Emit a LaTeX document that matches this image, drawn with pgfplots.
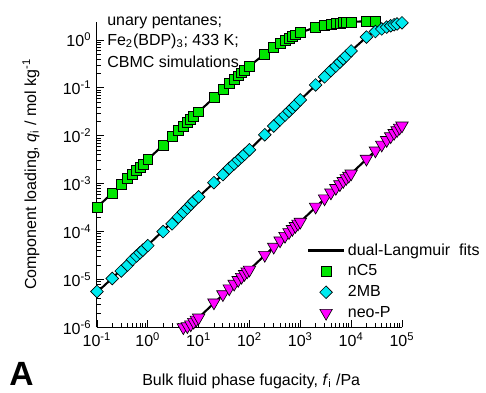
\documentclass[border=0pt]{standalone}
\usepackage{fontspec}
\setmainfont{Liberation Sans}
\usepackage{pgfplots}
\pgfplotsset{compat=1.18}
\definecolor{cgreen}{RGB}{0,230,0}
\definecolor{ccyan}{RGB}{0,235,240}
\definecolor{cmag}{RGB}{255,0,255}
\pgfplotsset{
  lineleg/.style={legend image code/.code={\draw[##1] (0pt,0pt) -- (22pt,0pt);}},
  markleg/.style={legend image code/.code={\draw[##1] plot coordinates {(11pt,0pt)};}},
}

\begin{document}
\begin{tikzpicture}
\path[use as bounding box] (-60.6pt,-40.4pt) rectangle (243.1pt,204.6pt);
\begin{axis}[
  at={(0pt,0pt)}, anchor=south west,
  scale only axis, width=190.6pt, height=191pt,
  xmode=log, ymode=log,
  xmin=0.1, xmax=1e5, ymin=1e-6, ymax=2.4,
  axis lines=left, axis line style={-, line width=0.6pt},
  tick align=inside,
  major tick length=4.5pt, minor tick length=2.5pt,
  tick style={black, line width=0.5pt},
  xtick={0.1,1,10,100,1000,10000,100000},
  xticklabels={10\textsuperscript{-1},10\textsuperscript{0},10\textsuperscript{1},10\textsuperscript{2},10\textsuperscript{3},10\textsuperscript{4},10\textsuperscript{5}},
  ytick={1e-6,1e-5,1e-4,1e-3,1e-2,1e-1,1},
  yticklabels={10\textsuperscript{-6},10\textsuperscript{-5},10\textsuperscript{-4},10\textsuperscript{-3},10\textsuperscript{-2},10\textsuperscript{-1},10\textsuperscript{0}},
  clip=false,
  legend cell align=left,
  legend style={at={(0.689,0.286)}, anchor=north west, draw=none, fill=none,
     inner sep=0pt, row sep=0.5pt, nodes={inner sep=2pt}},
]
% dual-Langmuir fit lines
\addplot[black, line width=1.3pt, mark=none, lineleg] coordinates {
(0.1,3.2e-4)(0.2,6.4e-4)(0.5,1.6e-3)(1,3.2e-3)(2,6.39e-3)(5,0.0159)(10,0.0316)(20,0.0624)(50,0.1506)(100,0.2844)(200,0.512)(300,0.698)(500,0.985)(700,1.195)(1000,1.422)(1500,1.655)(2000,1.829)(3000,2.021)(5000,2.207)(7000,2.297)(10000,2.370)(15000,2.43)(20000,2.462)(30000,2.494)};
\addlegendentry{dual-Langmuir\ \ fits}
\addplot[black, line width=1.3pt, mark=none, forget plot] coordinates {
(0.1,5.4e-6)(1,5.2e-5)(10,5.3e-4)(100,5.1e-3)(1000,0.056)(3000,0.17)(5000,0.285)(10000,0.59)(15000,0.87)(20000,1.15)(25000,1.35)(30000,1.5)(40000,1.7)(50000,1.86)(60000,1.98)(80000,2.16)(100000,2.28)};
\addplot[black, line width=1.3pt, mark=none, forget plot] coordinates {
(6.2,1.0e-6)(10,1.6e-6)(100,1.6e-5)(1000,1.6e-4)(10000,1.62e-3)(100000,1.63e-2)};
% CBMC data
\addplot[only marks, mark=square*, mark size=3.1pt, mark options={fill=cgreen, draw=black, line width=0.4pt}, markleg] coordinates {
(0.1,3.2e-4)(0.2,6.4e-4)(0.3,9.6e-4)(0.4,1.28e-3)(0.5,1.6e-3)(0.6,1.92e-3)(0.7,2.24e-3)(0.8,2.56e-3)(1,3.2e-3)
(2,6.39e-3)(3,9.57e-3)(4,0.01274)(5,0.0159)(6,0.01906)(7,0.02221)(8,0.02535)(10,0.0316)
(20,0.06244)(30,0.09253)(40,0.1219)(50,0.1506)(60,0.1786)(70,0.2060)(80,0.2327)(100,0.2844)
(200,0.512)(300,0.6982)(400,0.8533)(500,0.9846)(600,1.0971)(700,1.1947)(800,1.28)(1000,1.4222)
(2000,1.8286)(3000,2.0211)(4000,2.1333)(5000,2.2069)(6000,2.2588)(7000,2.2974)(8000,2.3273)(10000,2.3704)
(20000,2.4615)(30000,2.4935)};
\addlegendentry{nC5}
\addplot[only marks, mark=square*, mark size=2.8pt, mark options={rotate=45, fill=ccyan, draw=black, line width=0.4pt}, markleg] coordinates {
(0.1,5.6e-6)(0.2,1.05e-5)(0.3,1.5e-5)(0.4,2.0e-5)(0.5,2.6e-5)(0.6,3.1e-5)(0.7,3.6e-5)(0.8,4.1e-5)(1,5.1e-5)
(2,1.0e-4)(3,1.45e-4)(4,2.0e-4)(5,2.55e-4)(6,3.1e-4)(7,3.7e-4)(8,4.3e-4)(10,5.3e-4)
(20,1.05e-3)(30,1.55e-3)(40,2.1e-3)(50,2.6e-3)(60,3.1e-3)(70,3.6e-3)(80,4.1e-3)(100,5.1e-3)
(200,0.0105)(300,0.016)(400,0.0215)(500,0.027)(600,0.0325)(700,0.038)(800,0.044)(1000,0.056)
(2000,0.115)(3000,0.17)(4000,0.23)(5000,0.285)(6000,0.345)(7000,0.405)(8000,0.465)(10000,0.59)
(20000,1.15)(30000,1.5)(40000,1.7)(50000,1.86)(60000,1.98)(70000,2.08)(80000,2.16)(100000,2.28)};
\addlegendentry{2MB}
\addplot[only marks, mark=triangle*, mark size=4.5pt, mark options={rotate=180, fill=cmag, draw=black, line width=0.4pt}, markleg] coordinates {
(5,1.0e-6)(6,1.05e-6)(7,1.15e-6)(8,1.3e-6)(9,1.45e-6)(10,1.6e-6)
(20,3.3e-6)(30,4.9e-6)(40,6.5e-6)(50,8.1e-6)(60,9.7e-6)(70,1.13e-5)(80,1.3e-5)(90,1.46e-5)(100,1.6e-5)
(200,3.25e-5)(300,4.8e-5)(400,6.5e-5)(500,8.1e-5)(600,9.7e-5)(700,1.13e-4)(800,1.3e-4)(900,1.46e-4)(1000,1.6e-4)
(2000,3.3e-4)(3000,4.9e-4)(4000,6.5e-4)(5000,8.1e-4)(6000,9.7e-4)(7000,1.13e-3)(8000,1.3e-3)(9000,1.46e-3)(10000,1.62e-3)
(20000,3.3e-3)(30000,4.9e-3)(40000,6.5e-3)(50000,8.1e-3)(60000,9.7e-3)(70000,1.14e-2)(80000,1.3e-2)(90000,1.47e-2)(100000,1.63e-2)};
\addlegendentry{neo-P}
\end{axis}
% annotation and labels
\node[anchor=base west, inner sep=0pt] at (6.25pt,188.9pt) {unary pentanes;};
\node[anchor=base west, inner sep=0pt] at (6.25pt,176.1pt) {Fe\textsubscript{2}(BDP)\textsubscript{3}; 433 K;};
\node[anchor=base west, inner sep=0pt] at (6.25pt,162.7pt) {CBMC simulations};
\node[anchor=base west, inner sep=0pt] at (28.1pt,-36.1pt) {Bulk fluid phase fugacity, \textit{f}\textsubscript{i} /Pa};
\node[anchor=base west, inner sep=0pt, rotate=90] at (-38.1pt,23.3pt) {Component loading, \textit{q}\textsubscript{i} / mol kg\textsuperscript{-1}};
\node[anchor=base west, inner sep=0pt, font=\fontsize{21}{23}\bfseries] at (-55pt,-36.5pt) {A};
\end{tikzpicture}
\end{document}
